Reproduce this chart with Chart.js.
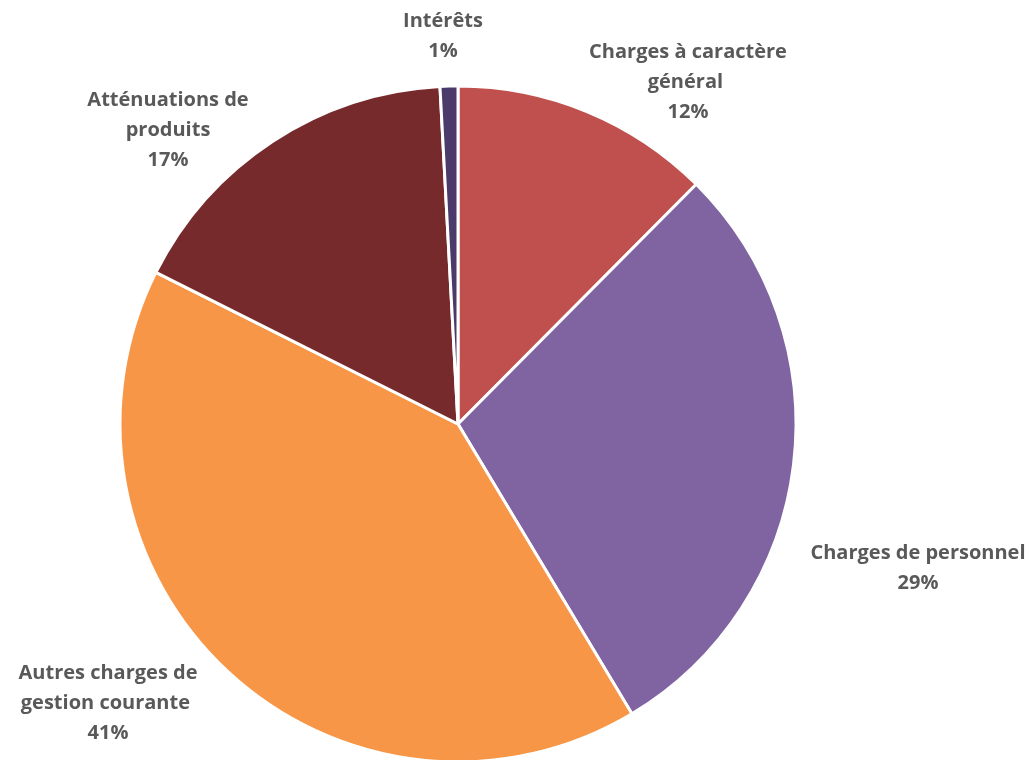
<!DOCTYPE html>
<html>
<head>
<meta charset="utf-8">
<script src="https://cdn.jsdelivr.net/npm/chart.js"></script>
<style>
  html, body { margin: 0; padding: 0; background: #fff; }
  #wrap { width: 1029px; height: 760px; }
</style>
</head>
<body>
<div id="wrap"><canvas id="pie"></canvas></div>
<script>
// chart data
const categories = [
  ['Charges à caractère', 'général '],
  ['Charges de personnel'],
  ['Autres charges de', 'gestion courante '],
  ['Atténuations de', 'produits'],
  ['Intérêts']
];
const values = [12.45, 28.95, 41.0, 16.75, 0.85];
const colors = ['#C0504D', '#8064A2', '#F79646', '#772A2B', '#4B3B6B'];

// where each label block sits, relative to the pie centre
const labelOffsets = [[230, -342], [460, 144], [-350, 279], [-290, -294], [-15, -388]];

const total = values.reduce((a, b) => a + b, 0);

const outsideLabels = {
  id: 'outsideLabels',
  afterDatasetsDraw(chart) {
    const ctx = chart.ctx;
    const arcs = chart.getDatasetMeta(0).data;
    ctx.save();
    ctx.font = 'bold 20px "Open Sans"';
    ctx.fillStyle = '#595959';
    ctx.textAlign = 'center';
    ctx.textBaseline = 'middle';
    arcs.forEach((arc, i) => {
      const lines = categories[i].concat([Math.round(values[i] / total * 100) + '%']);
      const x = arc.x + labelOffsets[i][0];
      const y0 = arc.y + labelOffsets[i][1] - (lines.length - 1) * 15;
      lines.forEach((t, j) => ctx.fillText(t, x, y0 + j * 30));
    });
    ctx.restore();
  }
};

new Chart(document.getElementById('pie'), {
  type: 'pie',
  data: {
    labels: categories.map(c => c.join(' ').trim()),
    datasets: [{
      data: values,
      backgroundColor: colors,
      borderColor: '#ffffff',
      borderWidth: 3,
      radius: 338
    }]
  },
  options: {
    responsive: true,
    maintainAspectRatio: false,
    animation: false,
    layout: { padding: { left: 120, right: 233, top: 88, bottom: 0 } },
    plugins: {
      legend: { display: false },
      tooltip: { enabled: false }
    }
  },
  plugins: [outsideLabels]
});
</script>
</body>
</html>
